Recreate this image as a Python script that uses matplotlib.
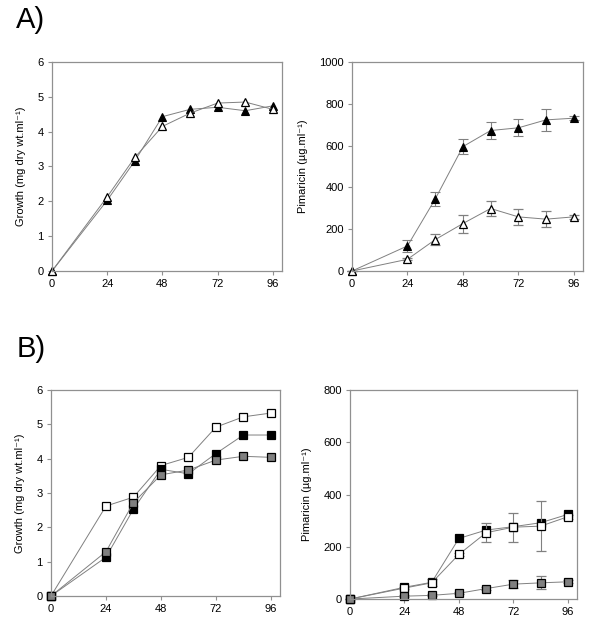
import matplotlib
matplotlib.use("Agg")
import matplotlib.pyplot as plt

plt.rcParams['font.family'] = ['Liberation Sans', 'DejaVu Sans']

hours = [0, 24, 36, 48, 60, 72, 84, 96]
xticks = [0, 24, 48, 72, 96]

# Panel A
a_growth_filled = [0, 2.03, 3.16, 4.43, 4.64, 4.70, 4.60, 4.74]
a_growth_open = [0, 2.13, 3.26, 4.15, 4.53, 4.82, 4.85, 4.64]
a_pim_filled = [0, 120, 344, 595, 672, 685, 723, 731]
a_pim_filled_err = [0, 30, 32, 35, 42, 40, 53, 10]
a_pim_open = [0, 56, 150, 227, 299, 259, 248, 259]
a_pim_open_err = [0, 5, 27, 43, 37, 39, 38, 8]

# Panel B
b_growth_open = [0, 2.62, 2.88, 3.80, 4.04, 4.92, 5.22, 5.33]
b_growth_black = [0, 1.13, 2.53, 3.69, 3.56, 4.15, 4.69, 4.69]
b_growth_gray = [0, 1.29, 2.72, 3.53, 3.67, 3.96, 4.07, 4.04]
b_pim_black = [0, 45, 64, 232, 264, 277, 292, 324]
b_pim_open = [0, 42, 62, 171, 254, 275, 279, 315]
b_pim_open_err = [0, 4, 14, 6, 36, 56, 95, 8]
b_pim_gray = [0, 11, 14, 22, 40, 57, 62, 66]
b_pim_gray_err = [0, 3, 4, 4, 5, 15, 25, 5]

fig = plt.figure(figsize=(6.0, 6.24), dpi=100)

LINE = '#808080'
SPINE = '#909090'


def style(ax, ymax, ystep, ylabel):
    ax.set_xlim(0, 100)
    ax.set_ylim(0, ymax)
    ax.set_xticks(xticks)
    ax.set_yticks(list(range(0, ymax + 1, ystep)))
    for s in ax.spines.values():
        s.set_color(SPINE)
        s.set_linewidth(0.9)
    ax.tick_params(direction='out', length=3, width=0.8, color=SPINE,
                   labelsize=8, labelcolor='black', pad=3)
    ax.set_ylabel(ylabel, fontsize=8, labelpad=8)


ax1 = fig.add_axes([0.0867, 0.5657, 0.3833, 0.335])
ax1.plot(hours, a_growth_filled, color=LINE, lw=0.7, marker='^', ms=6.2,
         mfc='black', mec='black', mew=0.8)
ax1.plot(hours, a_growth_open, color=LINE, lw=0.7, marker='^', ms=6.2,
         mfc='white', mec='black', mew=0.9)
style(ax1, 6, 1, 'Growth (mg dry wt.ml\u207b\u00b9)')

ax2 = fig.add_axes([0.5867, 0.5657, 0.385, 0.335])
ax2.errorbar(hours, a_pim_filled, yerr=a_pim_filled_err, color=LINE, lw=0.7,
             marker='^', ms=6.2, mfc='black', mec='black', mew=0.8,
             ecolor=LINE, elinewidth=0.8, capsize=3.5)
ax2.errorbar(hours, a_pim_open, yerr=a_pim_open_err, color=LINE, lw=0.7,
             marker='^', ms=6.2, mfc='white', mec='black', mew=0.9,
             ecolor=LINE, elinewidth=0.8, capsize=3.5)
style(ax2, 1000, 200, 'Pimaricin (\u00b5g.ml\u207b\u00b9)')

ax3 = fig.add_axes([0.085, 0.0449, 0.3817, 0.330])
ax3.plot(hours, b_growth_open, color=LINE, lw=0.7, marker='s', ms=5.5,
         mfc='white', mec='black', mew=0.9)
ax3.plot(hours, b_growth_black, color=LINE, lw=0.7, marker='s', ms=5.5,
         mfc='black', mec='black', mew=0.9)
ax3.plot(hours, b_growth_gray, color=LINE, lw=0.7, marker='s', ms=5.5,
         mfc='#808080', mec='black', mew=0.9)
style(ax3, 6, 1, 'Growth (mg dry wt.ml\u207b\u00b9)')

ax4 = fig.add_axes([0.5833, 0.04, 0.3783, 0.335])
ax4.plot(hours, b_pim_black, color=LINE, lw=0.7, marker='s', ms=5.5,
         mfc='black', mec='black', mew=0.9)
ax4.errorbar(hours, b_pim_open, yerr=b_pim_open_err, color=LINE, lw=0.7,
             marker='s', ms=5.5, mfc='white', mec='black', mew=0.9,
             ecolor=LINE, elinewidth=0.8, capsize=3.5)
ax4.errorbar(hours, b_pim_gray, yerr=b_pim_gray_err, color=LINE, lw=0.7,
             marker='s', ms=5.5, mfc='#808080', mec='black', mew=0.9,
             ecolor=LINE, elinewidth=0.8, capsize=3.5)
style(ax4, 800, 200, 'Pimaricin (\u00b5g.ml\u207b\u00b9)')

for ax in (ax1, ax2, ax3, ax4):
    for line in ax.lines:
        line.set_clip_on(False)

fig.text(0.027, 0.968, 'A)', fontsize=21, va='center', ha='left')
fig.text(0.027, 0.44, 'B)', fontsize=21, va='center', ha='left')

fig.savefig('out.png', dpi=100)
